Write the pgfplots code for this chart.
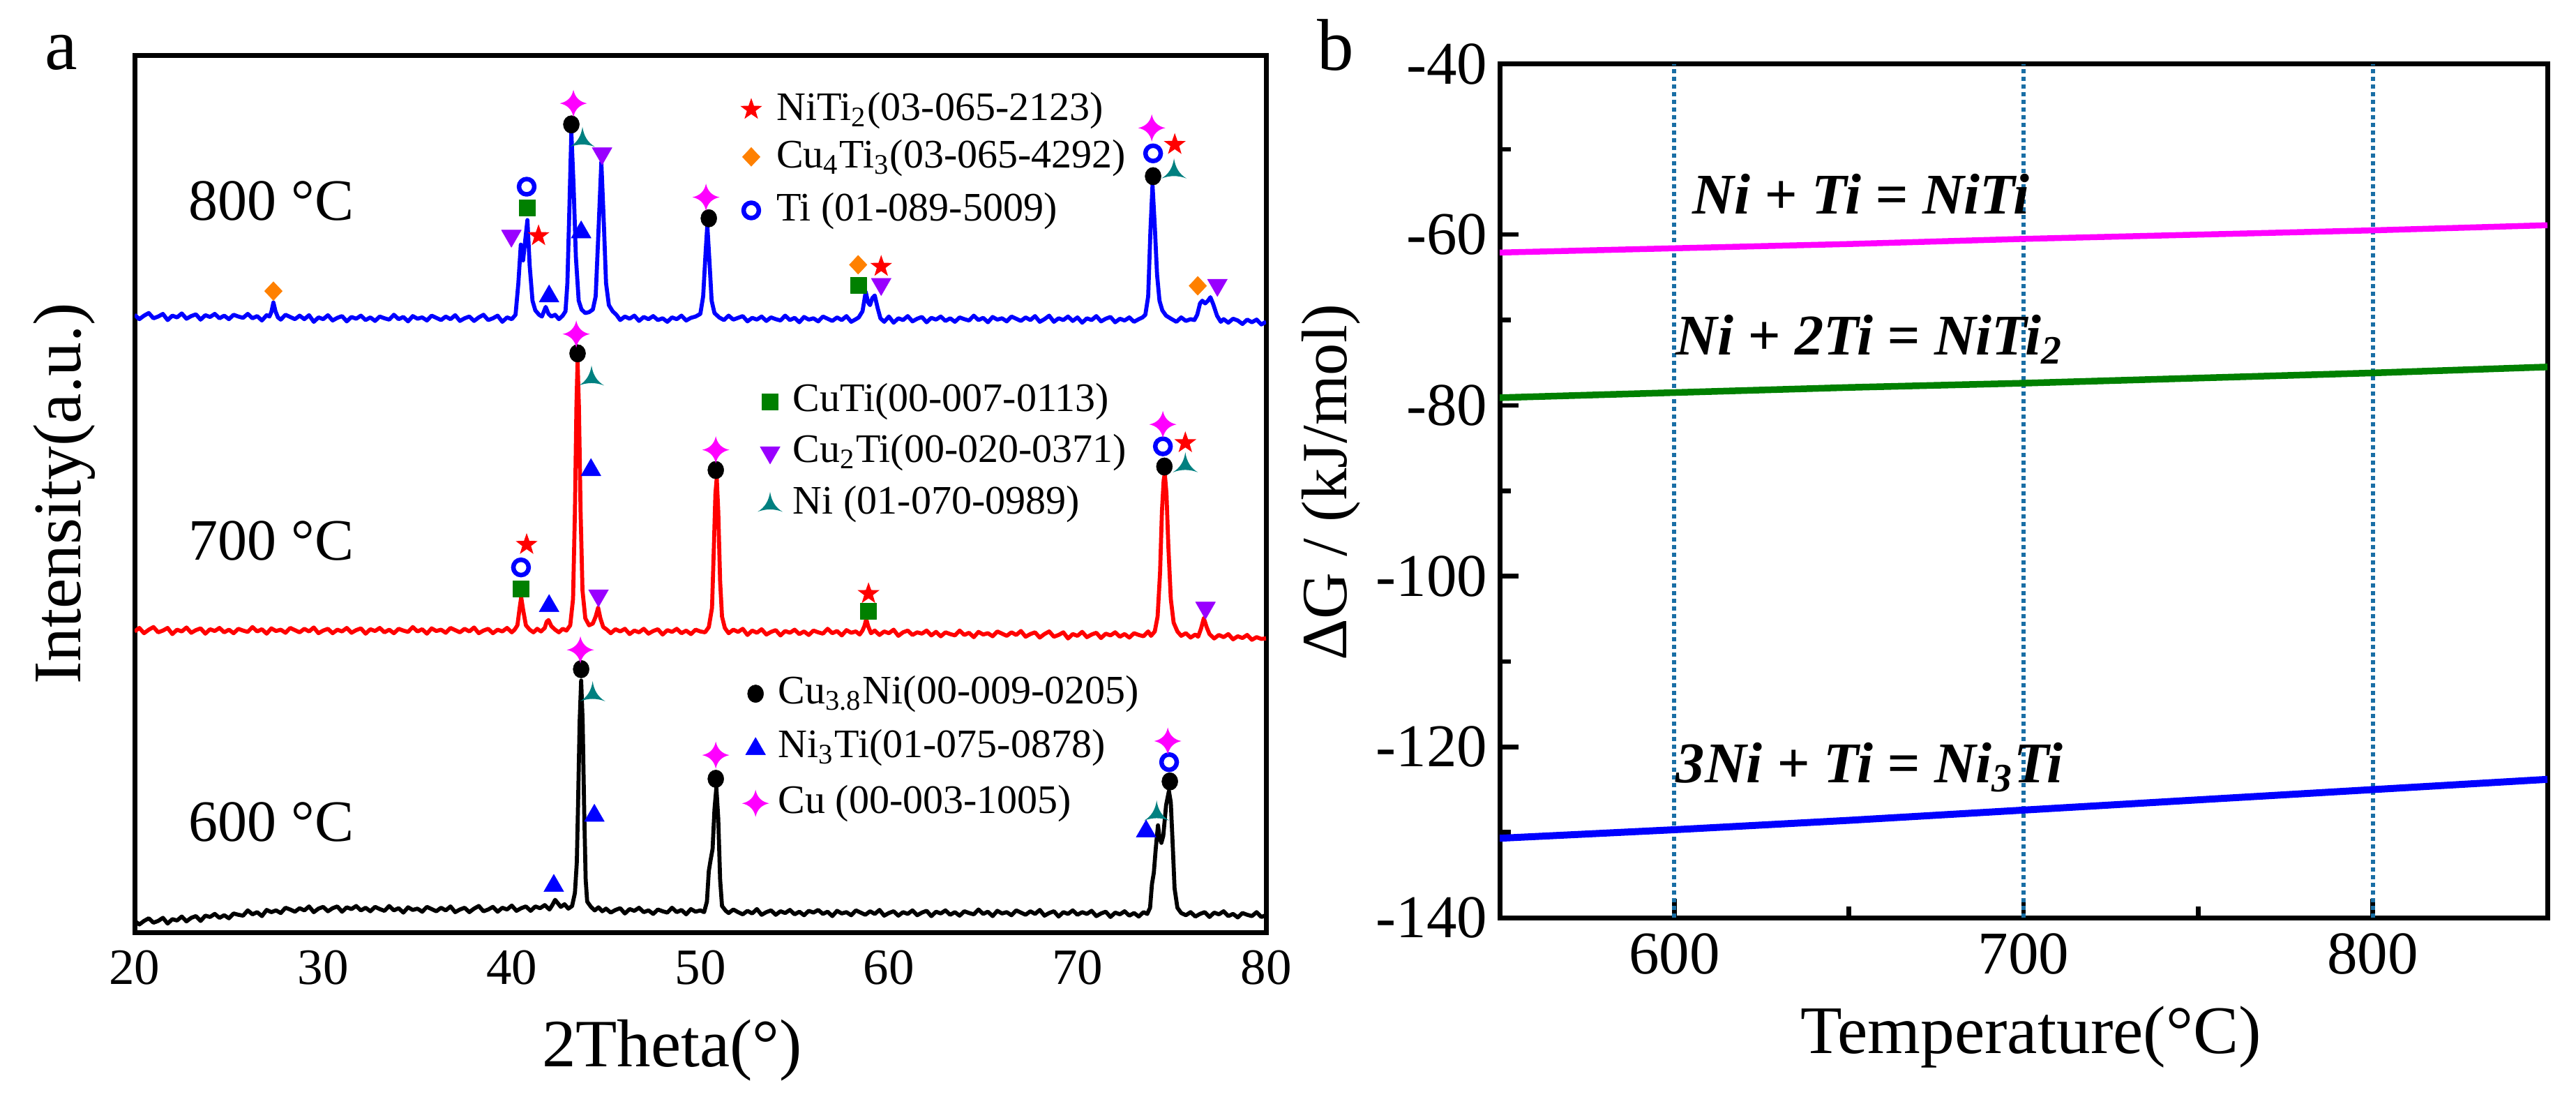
\documentclass[border=0pt]{standalone}
\usepackage{fontspec}
\setmainfont{Liberation Serif}
\usepackage{pgfplots}
\pgfplotsset{compat=1.18}
\definecolor{cblue}{RGB}{0,0,255}
\definecolor{cred}{RGB}{255,0,0}
\definecolor{cmag}{RGB}{255,0,255}
\definecolor{cgreen}{RGB}{0,128,0}
\definecolor{corange}{RGB}{255,128,0}
\definecolor{cpurple}{RGB}{153,0,255}
\definecolor{cteal}{RGB}{0,128,128}
\definecolor{cdot}{RGB}{25,110,165}
\pgfdeclareplotmark{fivestar}{%
  \pgfpathmoveto{\pgfpoint{0pt}{\pgfplotmarksize}}%
  \pgfpathlineto{\pgfpoint{-0.235\pgfplotmarksize}{0.324\pgfplotmarksize}}%
  \pgfpathlineto{\pgfpoint{-0.951\pgfplotmarksize}{0.309\pgfplotmarksize}}%
  \pgfpathlineto{\pgfpoint{-0.380\pgfplotmarksize}{-0.124\pgfplotmarksize}}%
  \pgfpathlineto{\pgfpoint{-0.588\pgfplotmarksize}{-0.809\pgfplotmarksize}}%
  \pgfpathlineto{\pgfpoint{0pt}{-0.4\pgfplotmarksize}}%
  \pgfpathlineto{\pgfpoint{0.588\pgfplotmarksize}{-0.809\pgfplotmarksize}}%
  \pgfpathlineto{\pgfpoint{0.380\pgfplotmarksize}{-0.124\pgfplotmarksize}}%
  \pgfpathlineto{\pgfpoint{0.951\pgfplotmarksize}{0.309\pgfplotmarksize}}%
  \pgfpathlineto{\pgfpoint{0.235\pgfplotmarksize}{0.324\pgfplotmarksize}}%
  \pgfpathclose\pgfusepathqfill}
\pgfdeclareplotmark{fourstar}{%
  \pgfpathmoveto{\pgfpoint{0pt}{\pgfplotmarksize}}%
  \pgfpathquadraticcurveto{\pgfpoint{0.17\pgfplotmarksize}{0.17\pgfplotmarksize}}{\pgfpoint{\pgfplotmarksize}{0pt}}%
  \pgfpathquadraticcurveto{\pgfpoint{0.17\pgfplotmarksize}{-0.17\pgfplotmarksize}}{\pgfpoint{0pt}{-\pgfplotmarksize}}%
  \pgfpathquadraticcurveto{\pgfpoint{-0.17\pgfplotmarksize}{-0.17\pgfplotmarksize}}{\pgfpoint{-\pgfplotmarksize}{0pt}}%
  \pgfpathquadraticcurveto{\pgfpoint{-0.17\pgfplotmarksize}{0.17\pgfplotmarksize}}{\pgfpoint{0pt}{\pgfplotmarksize}}%
  \pgfpathclose\pgfusepathqfill}
\pgfdeclareplotmark{trident}{%
  \pgfpathmoveto{\pgfpoint{0pt}{\pgfplotmarksize}}%
  \pgfpathquadraticcurveto{\pgfpoint{0.15\pgfplotmarksize}{-0.1\pgfplotmarksize}}{\pgfpoint{\pgfplotmarksize}{-0.6\pgfplotmarksize}}%
  \pgfpathquadraticcurveto{\pgfpoint{0pt}{-0.22\pgfplotmarksize}}{\pgfpoint{-\pgfplotmarksize}{-0.6\pgfplotmarksize}}%
  \pgfpathquadraticcurveto{\pgfpoint{-0.15\pgfplotmarksize}{-0.1\pgfplotmarksize}}{\pgfpoint{0pt}{\pgfplotmarksize}}%
  \pgfpathclose\pgfusepathqfill}
\begin{document}
\begin{tikzpicture}
\useasboundingbox (0,0) rectangle (738.6pt,314.2pt);
% ---------------- panel a ----------------
\begin{axis}[
  at={(38.6pt,47pt)}, anchor=south west,
  width=324.4pt, height=251.4pt, scale only axis,
  xmin=20, xmax=80, ymin=0, ymax=100,
  xtick={20,30,40,50,60,70,80}, xticklabels={20,30,40,50,60,70,80},
  ytick=\empty, major tick length=0pt,
  axis line style={line width=1.4pt},
  tick label style={font=\fontsize{14.6}{16}\selectfont},
  xticklabel style={yshift=-1.7pt},
  xlabel={2Theta(°)},
  xlabel style={font=\fontsize{19.4}{22}\selectfont, at={(axis description cs:0.475,-0.1344)}, anchor=center},
  ylabel={Intensity(a.u.)},
  ylabel style={font=\fontsize{19.5}{22}\selectfont, at={(axis description cs:-0.0623,0.5)}, anchor=center},
  every axis plot/.append style={line join=round},
]
% 600 C
\addplot[black, line width=1.15pt] coordinates {
(20,1.3)(20.25,0.9)(20.5,1.3)(20.75,1.6)(21,1.1)(21.25,1.3)(21.5,1.65)(21.75,1.0)(22,1.5)(22.25,1.35)(22.5,1.8)(22.75,1.25)(23,1.65)(23.25,1.85)(23.5,1.3)(23.75,1.9)(24,1.75)(24.25,2.1)(24.5,1.65)(24.75,1.95)(25,1.6)(25.25,2.15)(25.5,2.0)(25.75,1.9)(26,2.5)(26.25,2.05)(26.5,2.3)(26.75,1.85)(27,2.55)(27.25,2.3)(27.5,2.5)(27.75,2.2)(28,2.8)(28.25,2.6)(28.5,2.35)(28.75,2.75)(29,2.5)(29.25,2.95)(29.5,2.3)(29.75,2.7)(30,2.9)(30.25,2.4)(30.5,2.75)(30.75,2.95)(31,2.35)(31.25,2.85)(31.5,2.65)(31.75,3.0)(32,2.5)(32.25,2.8)(32.5,2.4)(32.75,2.9)(33,2.65)(33.25,2.45)(33.5,3.0)(33.75,2.5)(34,2.75)(34.25,2.25)(34.5,2.85)(34.75,2.55)(35,2.7)(35.25,2.35)(35.5,2.9)(35.75,2.65)(36,2.4)(36.25,2.8)(36.5,2.5)(36.75,2.95)(37,2.3)(37.25,2.6)(37.5,2.8)(37.75,2.3)(38,2.7)(38.25,3.0)(38.5,2.4)(38.75,2.6)(39,2.9)(39.25,2.35)(39.5,2.8)(39.75,2.6)(40,3.05)(40.25,2.45)(40.5,2.75)(40.75,2.95)(41,2.45)(41.25,2.95)(41.5,2.75)(41.75,3.1)(42,2.6)(42.15,3.1)(42.3,3.7)(42.45,3.3)(42.6,2.9)(42.8,3.2)(43,2.7)(43.2,3.0)(43.35,4.5)(43.45,8.0)(43.52,15.0)(43.6,24.0)(43.68,28.7)(43.76,24.0)(43.84,14.0)(43.92,6.0)(44,3.5)(44.2,2.9)(44.4,2.5)(44.6,2.85)(44.8,2.4)(45,2.7)(45.25,2.25)(45.5,2.55)(45.75,2.75)(46,2.15)(46.25,2.65)(46.5,2.45)(46.75,2.8)(47,2.3)(47.25,2.5)(47.5,2.1)(47.75,2.6)(48,2.4)(48.25,2.25)(48.5,2.8)(48.75,2.3)(49,2.55)(49.25,2.05)(49.5,2.65)(49.75,2.35)(50,2.5)(50.2,2.3)(50.35,3.5)(50.45,7.0)(50.55,8.3)(50.65,9.5)(50.75,14.0)(50.85,16.5)(50.95,13.0)(51.05,6.0)(51.15,3.0)(51.35,2.45)(51.5,2.2)(51.75,2.6)(52,2.3)(52.25,2.05)(52.5,2.45)(52.75,2.15)(53,2.65)(53.25,2.0)(53.5,2.3)(53.75,2.5)(54,2.0)(54.25,2.4)(54.5,2.2)(54.75,2.55)(55,2.05)(55.25,2.35)(55.5,1.95)(55.75,2.45)(56,2.25)(56.25,2.55)(56.5,2.1)(56.75,2.35)(57,1.85)(57.25,2.45)(57.5,2.15)(57.75,2.3)(58,1.95)(58.25,2.5)(58.5,2.25)(58.75,2.0)(59,2.4)(59.25,2.1)(59.5,2.55)(59.75,1.9)(60,2.2)(60.25,2.4)(60.5,1.9)(60.75,2.3)(61,2.1)(61.25,2.5)(61.5,1.95)(61.75,2.25)(62,2.45)(62.25,1.85)(62.5,2.35)(62.75,2.15)(63,2.5)(63.25,2.0)(63.5,2.3)(63.75,1.9)(64,2.4)(64.25,2.2)(64.5,2.05)(64.75,2.6)(65,2.1)(65.25,2.35)(65.5,1.85)(65.75,2.45)(66,2.15)(66.25,2.3)(66.5,1.95)(66.75,2.5)(67,2.25)(67.25,2.0)(67.5,2.4)(67.75,2.1)(68,2.55)(68.25,1.9)(68.5,2.2)(68.75,2.4)(69,1.8)(69.25,2.3)(69.5,2.1)(69.75,2.5)(70,2.0)(70.25,2.3)(70.5,2.1)(70.75,2.45)(71,1.85)(71.25,2.15)(71.5,2.35)(71.75,1.75)(72,2.25)(72.25,2.05)(72.5,2.4)(72.75,1.9)(73,2.2)(73.25,1.8)(73.5,2.3)(73.7,2.1)(73.85,2.8)(73.95,5.5)(74.05,6.8)(74.15,9.5)(74.27,12.2)(74.35,10.8)(74.45,10.2)(74.55,11.0)(74.7,14.5)(74.85,16.1)(74.95,14.8)(75.05,10.0)(75.15,5.0)(75.3,2.8)(75.5,2.2)(75.75,1.95)(76,2.3)(76.25,1.8)(76.5,2.1)(76.75,2.3)(77,1.75)(77.25,2.25)(77.5,2.05)(77.75,2.4)(78,1.85)(78.25,2.1)(78.5,1.7)(78.75,2.2)(79,2.0)(79.25,1.85)(79.5,2.3)(79.75,1.75)(80,1.95)};
% 700 C
\addplot[cred, line width=1.15pt] coordinates {
(20,34.3)(20.25,34.7)(20.5,34.1)(20.75,34.5)(21,34.8)(21.25,34.2)(21.5,34.4)(21.75,34.7)(22,34.0)(22.25,34.5)(22.5,34.3)(22.75,34.75)(23,34.15)(23.25,34.45)(23.5,34.65)(23.75,34.05)(24,34.55)(24.25,34.35)(24.5,34.7)(24.75,34.2)(25,34.5)(25.25,34.1)(25.5,34.6)(25.75,34.4)(26,34.25)(26.25,34.8)(26.5,34.3)(26.75,34.55)(27,34.05)(27.25,34.65)(27.5,34.35)(27.75,34.5)(28,34.15)(28.25,34.7)(28.5,34.45)(28.75,34.2)(29,34.6)(29.25,34.3)(29.5,34.75)(29.75,34.1)(30,34.4)(30.25,34.6)(30.5,34.1)(30.75,34.5)(31,34.3)(31.25,34.7)(31.5,34.15)(31.75,34.45)(32,34.65)(32.25,34.05)(32.5,34.55)(32.75,34.35)(33,34.7)(33.25,34.2)(33.5,34.5)(33.75,34.1)(34,34.6)(34.25,34.4)(34.5,34.25)(34.75,34.8)(35,34.3)(35.25,34.55)(35.5,34.05)(35.75,34.65)(36,34.35)(36.25,34.5)(36.5,34.15)(36.75,34.7)(37,34.45)(37.25,34.2)(37.5,34.6)(37.75,34.3)(38,34.75)(38.25,34.1)(38.5,34.4)(38.75,34.6)(39,34.1)(39.25,34.5)(39.5,34.3)(39.75,34.7)(40,34.2)(40.15,34.5)(40.3,35.0)(40.42,37.0)(40.5,38.2)(40.6,36.8)(40.75,35.0)(40.95,34.5)(41.15,34.2)(41.35,34.6)(41.55,34.3)(41.75,34.7)(41.85,35.4)(41.95,35.6)(42.1,34.9)(42.3,34.5)(42.5,34.2)(42.7,34.6)(42.9,34.4)(43.1,35.0)(43.25,38.0)(43.35,48.0)(43.43,60.0)(43.49,65.1)(43.56,60.0)(43.65,48.0)(43.75,39.0)(43.9,35.8)(44.1,35.0)(44.3,35.2)(44.45,36.0)(44.58,37.0)(44.7,35.8)(44.85,34.8)(45.05,34.5)(45.25,34.1)(45.5,34.55)(45.75,34.3)(46,34.6)(46.25,34.0)(46.5,34.4)(46.75,34.2)(47,34.6)(47.25,34.05)(47.5,34.35)(47.75,34.55)(48,33.95)(48.25,34.45)(48.5,34.25)(48.75,34.6)(49,34.1)(49.25,34.4)(49.5,34.0)(49.75,34.5)(50,34.3)(50.25,34.2)(50.45,34.8)(50.62,37.0)(50.72,44.0)(50.8,50.0)(50.87,51.8)(50.95,48.0)(51.05,40.0)(51.15,36.0)(51.3,34.7)(51.5,34.1)(51.75,34.5)(52,34.25)(52.25,34.6)(52.5,33.9)(52.75,34.4)(53,34.15)(53.25,34.55)(53.5,33.95)(53.75,34.25)(54,34.45)(54.25,33.85)(54.5,34.35)(54.75,34.15)(55,34.5)(55.25,34.0)(55.5,34.3)(55.75,33.9)(56,34.4)(56.25,34.2)(56.5,34.05)(56.75,34.6)(57,34.1)(57.25,34.35)(57.5,33.85)(57.75,34.45)(58,34.15)(58.25,34.3)(58.45,33.95)(58.6,34.4)(58.7,34.9)(58.8,35.7)(58.9,34.9)(59.05,34.1)(59.25,34.4)(59.5,33.9)(59.75,34.3)(60,34.1)(60.25,34.5)(60.5,33.8)(60.75,34.2)(61,34.4)(61.25,33.9)(61.5,34.2)(61.75,34.05)(62,34.4)(62.25,33.85)(62.5,34.25)(62.75,33.75)(63,34.2)(63.25,34.0)(63.5,33.85)(63.75,34.4)(64,33.9)(64.25,34.15)(64.5,33.65)(64.75,34.25)(65,33.95)(65.25,34.1)(65.5,33.75)(65.75,34.3)(66,34.05)(66.25,33.8)(66.5,34.2)(66.75,33.9)(67,34.35)(67.25,33.7)(67.5,34.0)(67.75,34.2)(68,33.6)(68.25,34.0)(68.5,34.3)(68.75,33.7)(69,33.9)(69.25,34.2)(69.5,33.5)(69.75,34.0)(70,33.8)(70.25,34.25)(70.5,33.65)(70.75,33.95)(71,34.15)(71.25,33.55)(71.5,34.05)(71.75,33.85)(72,34.2)(72.25,33.7)(72.5,34.0)(72.75,33.6)(73,34.1)(73.25,33.9)(73.5,33.75)(73.75,34.3)(73.9,33.8)(74.1,34.3)(74.25,36.0)(74.38,41.0)(74.48,48.0)(74.57,51.5)(74.63,52.3)(74.72,50.0)(74.82,44.0)(74.95,38.0)(75.1,35.3)(75.3,34.3)(75.5,33.8)(75.75,34.1)(76,33.6)(76.25,33.95)(76.4,33.7)(76.55,34.6)(76.7,35.8)(76.85,34.8)(77,34.0)(77.25,33.5)(77.5,33.9)(77.75,33.65)(78,34.0)(78.25,33.4)(78.5,33.75)(78.75,33.55)(79,33.9)(79.25,33.35)(79.5,33.65)(79.75,33.45)(80,33.5)};
% 800 C
\addplot[cblue, line width=1.15pt] coordinates {
(20,70.4)(20.25,69.9)(20.5,70.3)(20.75,70.6)(21,70.0)(21.25,70.2)(21.5,70.5)(21.75,69.8)(22,70.3)(22.25,70.1)(22.5,70.55)(22.75,69.95)(23,70.25)(23.25,70.45)(23.5,69.85)(23.75,70.35)(24,70.15)(24.25,70.5)(24.5,70.0)(24.75,70.3)(25,69.9)(25.25,70.4)(25.5,70.2)(25.75,70.05)(26,70.5)(26.25,70.0)(26.5,70.25)(26.75,69.75)(27,70.35)(27.15,70.2)(27.25,70.7)(27.36,71.8)(27.47,70.8)(27.6,70.1)(27.75,69.85)(28,70.4)(28.25,70.15)(28.5,69.9)(28.75,70.3)(29,69.9)(29.25,70.35)(29.5,69.6)(29.75,70.1)(30,69.9)(30.25,70.35)(30.5,69.75)(30.75,70.05)(31,70.25)(31.25,69.65)(31.5,70.15)(31.75,69.95)(32,70.3)(32.25,69.8)(32.5,70.1)(32.75,69.7)(33,70.2)(33.25,70.0)(33.5,69.85)(33.75,70.4)(34,69.9)(34.25,70.15)(34.5,69.65)(34.75,70.25)(35,69.95)(35.25,70.1)(35.5,69.75)(35.75,70.3)(36,70.05)(36.25,69.8)(36.5,70.2)(36.75,69.9)(37,70.35)(37.25,69.7)(37.5,70.0)(37.75,70.2)(38,69.7)(38.25,70.1)(38.5,70.4)(38.75,69.8)(39,70.0)(39.25,70.3)(39.5,69.6)(39.75,70.1)(40,69.9)(40.2,70.4)(40.35,74.0)(40.48,78.4)(40.6,76.6)(40.72,79.0)(40.83,81.2)(40.95,76.0)(41.1,72.0)(41.25,70.9)(41.45,70.4)(41.6,70.2)(41.8,71.3)(41.95,70.5)(42.1,70.2)(42.3,70.4)(42.5,69.9)(42.7,70.3)(42.85,70.8)(42.95,74.0)(43.05,82.0)(43.16,91.2)(43.28,85.0)(43.4,77.0)(43.55,72.0)(43.7,71.0)(43.9,70.6)(44.1,70.7)(44.3,71.0)(44.45,72.5)(44.6,80.0)(44.75,87.8)(44.88,81.0)(45,74.0)(45.15,71.5)(45.35,70.8)(45.55,70.4)(45.75,69.8)(46,70.2)(46.25,69.95)(46.5,70.3)(46.75,69.7)(47,70.15)(47.25,69.9)(47.5,70.25)(47.75,69.8)(48,70.0)(48.25,69.6)(48.5,70.1)(48.75,69.9)(49,70.3)(49.25,69.75)(49.5,70.05)(49.75,70.2)(50,70.5)(50.15,72.5)(50.28,77.5)(50.37,80.6)(50.47,77.0)(50.6,72.0)(50.75,70.6)(51,70.1)(51.25,69.8)(51.5,70.3)(51.75,69.85)(52,70.05)(52.25,70.25)(52.5,69.65)(52.75,70.05)(53,69.85)(53.25,70.2)(53.5,69.7)(53.75,70.1)(54,69.9)(54.25,69.75)(54.5,70.3)(54.75,69.8)(55,70.05)(55.25,69.55)(55.5,70.15)(55.75,69.85)(56,70.0)(56.25,69.65)(56.5,70.2)(56.75,69.95)(57,69.7)(57.25,70.1)(57.5,69.8)(57.75,70.25)(58,69.6)(58.25,69.9)(58.4,70.1)(58.6,70.8)(58.77,73.0)(58.9,71.8)(59,71.5)(59.12,72.3)(59.25,72.6)(59.4,71.2)(59.55,70.0)(59.75,69.6)(60,70.2)(60.25,69.5)(60.5,70.0)(60.75,69.8)(61,70.25)(61.25,69.65)(61.5,69.95)(61.75,70.15)(62,69.55)(62.25,70.05)(62.5,69.85)(62.75,70.2)(63,69.7)(63.25,70.0)(63.5,69.6)(63.75,70.1)(64,69.9)(64.25,69.75)(64.5,70.3)(64.75,69.8)(65,70.05)(65.25,69.55)(65.5,70.15)(65.75,69.85)(66,70.0)(66.25,69.65)(66.5,70.2)(66.75,69.95)(67,69.7)(67.25,70.1)(67.5,69.8)(67.75,70.25)(68,69.6)(68.25,69.9)(68.5,70.3)(68.75,69.6)(69,70.0)(69.25,69.8)(69.5,70.2)(69.75,69.7)(70,70.1)(70.25,69.5)(70.5,70.0)(70.75,69.8)(71,70.25)(71.25,69.65)(71.5,69.95)(71.75,70.15)(72,69.55)(72.25,69.95)(72.5,69.75)(72.75,70.1)(73,69.6)(73.25,69.9)(73.45,70.1)(73.6,70.4)(73.75,72.5)(73.87,80.0)(73.98,85.2)(74.1,80.5)(74.22,75.0)(74.35,72.0)(74.5,70.9)(74.7,70.3)(75,69.9)(75.25,69.6)(75.5,70.1)(75.75,69.7)(76,69.9)(76.2,69.8)(76.35,70.4)(76.5,71.7)(76.62,72.0)(76.77,71.7)(76.92,72.0)(77.05,72.4)(77.2,71.6)(77.4,70.3)(77.6,69.6)(77.75,69.9)(78,69.5)(78.25,69.95)(78.5,69.75)(78.75,69.35)(79,69.85)(79.25,69.55)(79.5,69.85)(79.75,69.3)(80,69.6)};
% phase markers (peaks + legend symbols)
\addplot[only marks, mark=fivestar, mark size=3.3pt, color=cred] coordinates {(41.42,79.4)(59.59,75.9)(75.16,89.8)(40.79,44.2)(58.92,38.6)(75.72,55.8)(52.70,93.8)};
\addplot[only marks, mark=diamond*, mark size=2.7pt, color=corange, mark options={xscale=1.25, line width=0.1pt}] coordinates {(27.36,73.1)(58.37,76.1)(76.38,73.7)(52.70,88.4)};
\addplot[only marks, mark=o, mark size=2.2pt, color=cblue, mark options={line width=1.3pt}] coordinates {(40.79,85.0)(74.01,88.8)(40.49,41.6)(74.53,55.4)(74.86,19.4)(52.70,82.3)};
\addplot[only marks, mark=square*, mark size=2.3pt, color=cgreen, mark options={line width=0.1pt}] coordinates {(40.83,82.6)(58.37,73.8)(40.49,39.2)(58.92,36.6)(53.70,60.5)};
\addplot[only marks, mark=triangle*, mark size=3.3pt, color=cpurple, mark options={rotate=180, line width=0.1pt}] coordinates {(39.98,79.4)(44.79,88.8)(59.59,73.9)(77.42,73.8)(44.60,38.4)(76.79,37.0)(53.70,54.7)};
\addplot[only marks, mark=trident, mark size=3.6pt, color=cteal] coordinates {(43.75,90.4)(75.12,86.8)(44.23,63.2)(75.72,53.3)(44.29,27.2)(74.20,13.6)(53.70,48.8)};
\addplot[only marks, mark=*, mark size=2.3pt, color=black, mark options={yscale=1.1, line width=0.1pt}] coordinates {(43.16,92.1)(50.45,81.4)(74.01,86.2)(43.49,66.0)(50.82,52.7)(74.61,53.1)(43.68,30.0)(50.82,17.5)(74.90,17.2)(52.93,27.2)};
\addplot[only marks, mark=triangle*, mark size=3.3pt, color=cblue, mark options={line width=0.1pt}] coordinates {(41.98,72.5)(43.68,79.8)(41.98,37.2)(44.20,52.7)(42.23,5.3)(44.38,13.3)(73.64,11.5)(52.93,20.9)};
\addplot[only marks, mark=fourstar, mark size=3.9pt, color=cmag] coordinates {(43.27,94.5)(50.30,83.8)(73.94,91.7)(43.42,68.2)(50.82,55.0)(74.53,57.9)(43.64,32.2)(50.82,20.2)(74.79,21.8)(52.93,14.7)};
% legend texts
\begin{scope}[every node/.style={anchor=west, inner sep=0pt, font=\fontsize{11.6}{13}\selectfont}]
\node at (axis cs:54.0,93.7) {NiTi\textsubscript{2}(03-065-2123)};
\node at (axis cs:54.0,88.3) {Cu\textsubscript{4}Ti\textsubscript{3}(03-065-4292)};
\node at (axis cs:54.0,82.2) {Ti (01-089-5009)};
\node at (axis cs:54.88,60.5) {CuTi(00-007-0113)};
\node at (axis cs:54.88,54.7) {Cu\textsubscript{2}Ti(00-020-0371)};
\node at (axis cs:54.88,48.8) {Ni (01-070-0989)};
\node at (axis cs:54.1,27.2) {Cu\textsubscript{3.8}Ni(00-009-0205)};
\node at (axis cs:54.1,21.0) {Ni\textsubscript{3}Ti(01-075-0878)};
\node at (axis cs:54.1,14.7) {Cu (00-003-1005)};
\end{scope}
\begin{scope}[every node/.style={anchor=center, inner sep=0pt, font=\fontsize{16.8}{19}\selectfont}]
\node at (axis cs:27.25,83.4) {800 °C};
\node at (axis cs:27.25,44.6) {700 °C};
\node at (axis cs:27.25,12.6) {600 °C};
\end{scope}
\end{axis}
% ---------------- panel b ----------------
\begin{axis}[
  at={(430pt,51.2pt)}, anchor=south west,
  width=300.4pt, height=244.7pt, scale only axis,
  xmin=550, xmax=850, ymin=-140, ymax=-40,
  xtick={600,700,800}, xticklabels={600,700,800},
  minor xtick={650,750},
  ytick={-140,-120,-100,-80,-60,-40}, yticklabels={-140,-120,-100,-80,-60,-40},
  minor ytick={-130,-110,-90,-70,-50},
  tick align=inside, tick pos=left,
  major tick length=5.4pt, minor tick length=3.2pt,
  every tick/.style={black, line width=1.3pt},
  axis line style={line width=1.4pt},
  tick label style={font=\fontsize{17.4}{19}\selectfont},
  xticklabel style={yshift=-1pt},
  xlabel={Temperature(°C)},
  xlabel style={font=\fontsize{19.5}{22}\selectfont, at={(axis description cs:0.507,-0.1398)}, anchor=center},
  ylabel={ΔG / (kJ/mol)},
  ylabel style={font=\fontsize{18.5}{21}\selectfont, at={(axis description cs:-0.1611,0.51)}, anchor=center},
]
\addplot[cdot, line width=1.2pt, dash pattern=on 1.3pt off 0.9pt] coordinates {(600,-140)(600,-40)};
\addplot[cdot, line width=1.2pt, dash pattern=on 1.3pt off 0.9pt] coordinates {(700,-140)(700,-40)};
\addplot[cdot, line width=1.2pt, dash pattern=on 1.3pt off 0.9pt] coordinates {(800,-140)(800,-40)};
\addplot[cmag, line width=1.7pt] coordinates {(550,-62.1)(600,-61.6)(650,-61.1)(700,-60.5)(750,-60.0)(800,-59.5)(850,-58.9)};
\addplot[cgreen, line width=1.9pt] coordinates {(550,-79.1)(600,-78.5)(650,-77.9)(700,-77.4)(750,-76.8)(800,-76.2)(850,-75.5)};
\addplot[cblue, line width=2pt] coordinates {(550,-130.7)(600,-129.7)(650,-128.6)(700,-127.4)(750,-126.2)(800,-125.0)(850,-123.8)};
\begin{scope}[every node/.style={anchor=west, inner sep=0pt, font=\bfseries\itshape\fontsize{16.5}{19}\selectfont}]
\node at (axis cs:605.1,-55.2) {Ni + Ti = NiTi};
\node at (axis cs:600.3,-72.3) {Ni + 2Ti = NiTi\textsubscript{2}};
\node at (axis cs:600.3,-122.4) {3Ni + Ti = Ni\textsubscript{3}Ti};
\end{scope}
\end{axis}
\node[font=\fontsize{21}{24}\selectfont, inner sep=0pt] at (17.6pt,299.2pt) {a};
\node[font=\fontsize{21}{24}\selectfont, inner sep=0pt] at (383pt,301.2pt) {b};
\end{tikzpicture}
\end{document}
